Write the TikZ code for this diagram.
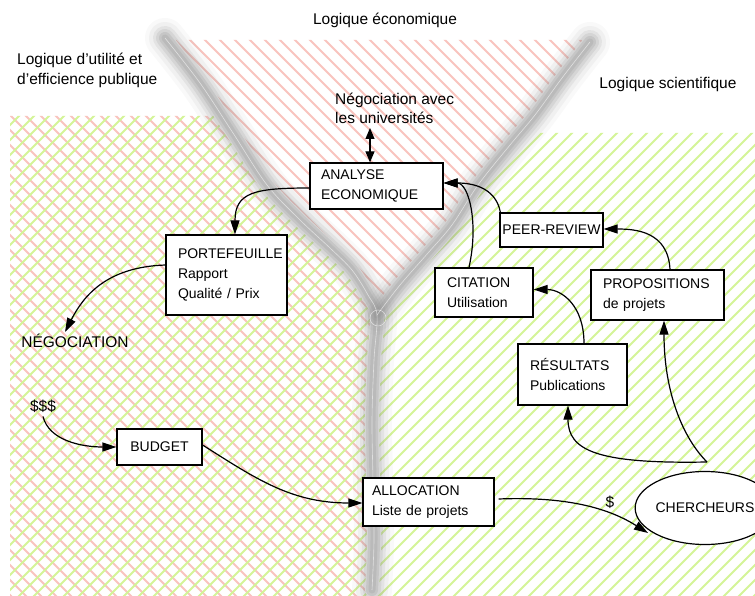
\documentclass[tikz,border=0pt]{standalone}
\usepackage{fontspec}
\setmainfont{Liberation Sans}
\usetikzlibrary{arrows.meta,shapes.geometric,calc}
\definecolor{hred}{RGB}{249,196,190}
\definecolor{hgreen}{RGB}{212,244,152}
\newcommand\boxfont{\fontsize{14}{20}\selectfont}
\newcommand\lblfont{\fontsize{15.5}{19.5}\selectfont}
\newcommand\riverpaths[1]{%
  \draw[#1] plot[smooth, tension=0.55] coordinates {(165,38) (200,83) (233,133) (267,185) (300,220) (330,248) (352,270) (368,295) (377,315) (374,360) (372,420) (373,480) (374,540) (372,590)};
  \draw[#1] plot[smooth, tension=0.55] coordinates {(590,42) (562,78) (535,115) (510,145) (478,185) (452,225) (428,253) (400,285) (377,315)};
}
\begin{document}
\begin{tikzpicture}[x=1pt,y=-1pt,
  box/.style={draw, line width=1.2pt, fill=white, font=\boxfont, inner ysep=2pt},
  lbl/.style={font=\lblfont, inner sep=2pt},
  arr/.style={line width=1.2pt, -{Triangle[length=14pt,width=9pt]}},
  hatchR/.style={hred, line width=2.1pt},
  hatchG/.style={hgreen, line width=2.1pt}]
\useasboundingbox (0,0) rectangle (755,596);
\fill[white] (0,0) rectangle (755,596);

% red hatching (economic logic)
\begin{scope}
\clip (10,596) -- (10,116) -- (222,116) -- (200,83) -- (170,40) -- (590,40) -- (562,78) -- (535,115) -- (510,145) -- (478,185) -- (452,225) -- (428,253) -- (400,285) -- (377,315) -- (374,360) -- (372,420) -- (373,480) -- (374,540) -- (372,596) -- cycle;
\foreach \k in {-600,-585,...,780} {\draw[hatchR] (\k,0) -- (\k+620,620);}
\end{scope}
% green hatching (scientific logic)
\begin{scope}
\clip (10,596) -- (10,116) -- (222,116) -- (233,133) -- (267,185) -- (300,220) -- (330,248) -- (352,270) -- (368,295) -- (377,315) -- (400,285) -- (428,253) -- (452,225) -- (478,185) -- (510,145) -- (521,133) -- (755,133) -- (755,596) -- cycle;
\foreach \k in {0,15,...,1410} {\draw[hatchG] (\k,0) -- (\k-620,620);}
\end{scope}

% river
\riverpaths{white, line width=14pt, line cap=round, line join=round}
\foreach \w/\o in {40/0.05,32/0.08,24/0.12,18/0.16,12/0.2,7/0.2} {\riverpaths{black!45, line width=\w pt, opacity=\o, line cap=round, line join=round}}
\riverpaths{white, line width=0.6pt, opacity=0.55}
\draw[white, line width=0.6pt, opacity=0.55] (378,318) circle[radius=8pt];

% free labels
\node[lbl] (leco) at (385,20) {Logique économique};
\node[lbl, anchor=west, align=left] (lutil) at (15,70.5) {Logique d'utilité et\\d'efficience publique};
\node[lbl] (lsci) at (668,84) {Logique scientifique};
\node[lbl, anchor=west, align=left] (nego) at (333,108.5) {Négociation avec\\les universités};
\node[lbl] (negoc) at (75,341) {NÉGOCIATION};
\node[lbl] (dollars) at (43,406) {\$\$\$};
\node[lbl] (dollar) at (610,502) {\$};

% boxes
\node[box, minimum width=133, minimum height=46, inner xsep=11pt, text width=111pt, align=left] (ana) at (376.5,186) {ANALYSE\\ECONOMIQUE};
\node[box, minimum width=121, minimum height=80, inner xsep=12pt, text width=97pt, align=left] (port) at (226.5,275) {PORTEFEUILLE\\Rapport\\Qualité / Prix};
\node[box, minimum width=85, minimum height=36, inner xsep=2pt, align=center] (budget) at (159.5,447) {BUDGET};
\node[box, minimum width=131, minimum height=48, inner xsep=9pt, text width=113pt, align=left] (alloc) at (428.5,502) {ALLOCATION\\Liste de projets};
\node[box, minimum width=109, minimum height=61, inner xsep=12pt, text width=85pt, align=left] (res) at (572.5,374.5) {RÉSULTATS\\Publications};
\node[box, minimum width=98, minimum height=49, inner xsep=12pt, text width=74pt, align=left] (cit) at (484,292.5) {CITATION\\Utilisation};
\node[box, minimum width=133, minimum height=50, inner xsep=12pt, text width=109pt, align=left] (prop) at (657.5,295) {PROPOSITIONS\\de projets};
\node[box, minimum width=103, minimum height=34, inner xsep=1pt, align=center] (peer) at (551.5,230) {PEER-REVIEW};
\node[box, ellipse, minimum width=126, minimum height=73, inner sep=0pt] (cher) at (705,508) {CHERCHEURS};

% connectors
\coordinate (na) at (370,128);
\coordinate (split) at ($(cher.center)+(2,-46)$);
\coordinate (chin) at ($(cher.center)+(-57,25)$);
\draw[line width=1.2pt, {Triangle[length=11pt,width=9pt]}-{Triangle[length=11pt,width=9pt]}] (na) -- (na |- ana.north);
\draw[arr] ($(ana.west)+(0,2)$) .. controls +(-55,0) and +(0,-42) .. ($(port.north)+(8.5,0)$);
\draw[arr] ($(port.west)+(0,-10)$) .. controls +(-60,2) and +(18,-35) .. ($(negoc.north)+(-10,0)$);
\draw[arr] ($(dollars.south)+(0,2)$) .. controls +(6,24) and +(-35,0) .. (budget.west);
\draw[arr] ($(budget.east)+(0,-2)$) .. controls +(55,35) and +(-70,0) .. ($(alloc.west)+(0,1)$);
\draw[arr] ($(alloc.east)+(4,-3)$) .. controls +(75,-3) and +(-35,-22) .. (chin);
\draw[arr] (split) .. controls +(-110,2) and +(0,45) .. ($(res.south)+(-4.5,0)$);
\draw[arr] (split) .. controls +(-25,-25) and +(0,70) .. ($(prop.south)+(6.5,0)$);
\draw[arr] ($(res.north)+(11.5,0)$) .. controls +(0,-38) and +(28,0) .. ($(cit.east)+(0,-3)$);
\draw[arr] ($(cit.north)+(-15,0)$) .. controls +(10,-45) and +(25,0) .. ($(ana.east)+(0,-3)$);
\draw[arr] ($(peer.north west)+(1,0)$) .. controls +(-5,-27) and +(25,0) .. ($(ana.east)+(0,-3)$);
\draw[arr] ($(prop.north)+(12.5,0)$) .. controls +(-2,-38) and +(32,0) .. ($(peer.east)+(0,-1)$);
\end{tikzpicture}
\end{document}
